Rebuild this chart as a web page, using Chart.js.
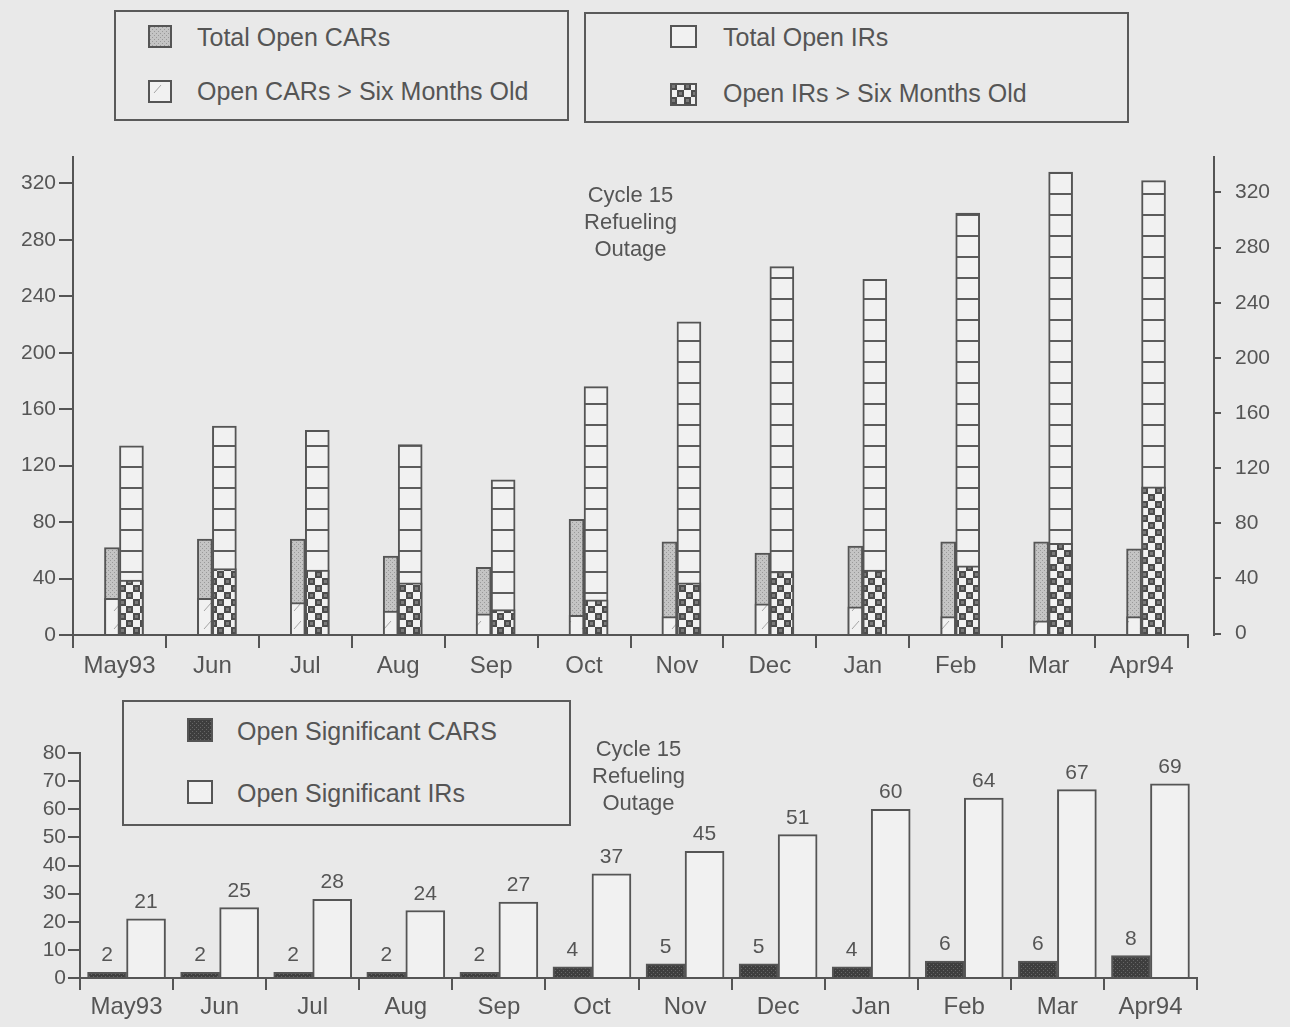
<!DOCTYPE html>
<html>
<head>
<meta charset="utf-8">
<script src="https://cdn.jsdelivr.net/npm/chart.js@4.4.1/dist/chart.umd.min.js"></script>
<style>
  body { margin: 0; width: 1290px; height: 1027px; position: relative; overflow: hidden;
         background: #e9e9e9; color: #555; font-family: "Liberation Sans", Arial, sans-serif; }
  #top, #bottom { position: absolute; left: 0; }
  #top { top: 130px; }
  #bottom { top: 735px; }
  .legend { position: absolute; border: 2px solid #5a5a5a; box-sizing: border-box; background: #e9e9e9; z-index: 2; }
  .legend canvas { position: absolute; }
  .legend span { position: absolute; font-size: 25px; line-height: 28px; white-space: nowrap; }
</style>
</head>
<body>
<canvas id="top" width="1290" height="570"></canvas>
<canvas id="bottom" width="1290" height="292"></canvas>
<script>
// data
const months = ['May93', 'Jun', 'Jul', 'Aug', 'Sep', 'Oct', 'Nov', 'Dec', 'Jan', 'Feb', 'Mar', 'Apr94'];
const totalOpenCARs = [62, 68, 68, 56, 48, 82, 66, 58, 63, 66, 66, 61];
const oldOpenCARs   = [26, 26, 23, 17, 15, 14, 13, 22, 20, 13, 10, 13];
const totalOpenIRs  = [134, 148, 145, 135, 110, 176, 222, 261, 252, 299, 328, 322];
const oldOpenIRs    = [39, 47, 46, 37, 18, 25, 37, 45, 46, 49, 65, 105];
const sigCARs = [2, 2, 2, 2, 2, 4, 5, 5, 4, 6, 6, 8];
const sigIRs  = [21, 25, 28, 24, 27, 37, 45, 51, 60, 64, 67, 69];
const noteLines = ['Cycle 15', 'Refueling', 'Outage'];

const ink = '#555555';
const font = '"Liberation Sans", Arial, sans-serif';
Chart.defaults.font.family = font;
Chart.defaults.color = ink;

// fill patterns like the old b/w print
function tile(w, h, paint) {
  const c = document.createElement('canvas');
  c.width = w; c.height = h;
  const g = c.getContext('2d');
  paint(g);
  return g.createPattern(c, 'repeat');
}
const fills = {
  carTotal: tile(4, 4, g => {
    g.fillStyle = '#c4c4c4'; g.fillRect(0, 0, 4, 4);
    g.fillStyle = '#999'; g.fillRect(0, 0, 1, 1); g.fillRect(2, 2, 1, 1);
  }),
  carOld: tile(18, 18, g => {
    g.fillStyle = '#f1f1f1'; g.fillRect(0, 0, 18, 18);
    g.strokeStyle = '#a5a5a5'; g.lineWidth = 1;
    g.beginPath(); g.moveTo(13, 5); g.lineTo(6, 13); g.stroke();
  }),
  irTotal: tile(6, 21, g => {
    g.fillStyle = '#f1f1f1'; g.fillRect(0, 0, 6, 21);
    g.fillStyle = '#5c5c5c'; g.fillRect(0, 0, 6, 2);
  }),
  irOld: tile(14, 14, g => {
    g.fillStyle = '#f1f1f1'; g.fillRect(0, 0, 14, 14);
    g.fillStyle = '#4c4c4c'; g.fillRect(0, 0, 7, 7); g.fillRect(7, 7, 7, 7);
    g.fillStyle = '#7a7a7a'; g.fillRect(2, 2, 3, 3); g.fillRect(9, 9, 3, 3);
  }),
  sigCar: tile(4, 4, g => {
    g.fillStyle = '#3e3e3e'; g.fillRect(0, 0, 4, 4);
    g.fillStyle = '#666'; g.fillRect(1, 1, 1, 1); g.fillRect(3, 3, 1, 1);
  }),
  sigIr: '#f1f1f1'
};

// "Cycle 15 Refueling Outage" note between Oct and Nov
const outageNote = {
  id: 'outageNote',
  afterDraw(chart, args, opts) {
    const { ctx, scales: { x } } = chart;
    const cx = x.getPixelForValue(5.5);
    ctx.save();
    ctx.font = '22px ' + font;
    ctx.fillStyle = ink;
    ctx.textAlign = 'center';
    ctx.textBaseline = 'middle';
    noteLines.forEach((t, i) => ctx.fillText(t, cx, opts.top + i * 27));
    ctx.restore();
  }
};

// the right axis stands a bit apart from the end of the x axis
const axisGap = {
  id: 'axisGap',
  afterLayout(chart, args, opts) {
    const x = chart.scales.x;
    x.right -= opts.gap;
    x.width = x.right - x.left;
    x.configure();
  }
};

// numbers over the lower bars
const valueLabels = {
  id: 'valueLabels',
  afterDatasetsDraw(chart) {
    const ctx = chart.ctx;
    ctx.save();
    ctx.font = '21px ' + font;
    ctx.fillStyle = ink;
    ctx.textAlign = 'center';
    ctx.textBaseline = 'alphabetic';
    chart.data.datasets.forEach((ds, i) => {
      chart.getDatasetMeta(i).data.forEach((bar, j) => {
        ctx.fillText(ds.data[j], bar.x, bar.y - 11);
      });
    });
    ctx.restore();
  }
};

const axisLine = { display: true, color: ink, width: 2 };

new Chart(document.getElementById('top'), {
  type: 'bar',
  data: {
    labels: months,
    datasets: [
      { label: 'Open CARs > Six Months Old', data: oldOpenCARs, stack: 'car', backgroundColor: fills.carOld, barThickness: 15 },
      { label: 'Total Open CARs', data: totalOpenCARs, stack: 'car', backgroundColor: fills.carTotal, barThickness: 15 },
      { label: 'Open IRs > Six Months Old', data: oldOpenIRs, stack: 'ir', backgroundColor: fills.irOld, barThickness: 24 },
      { label: 'Total Open IRs', data: totalOpenIRs, stack: 'ir', backgroundColor: fills.irTotal, barThickness: 24 }
    ]
  },
  options: {
    responsive: false,
    animation: false,
    devicePixelRatio: 1,
    layout: { padding: { top: 13 } },
    elements: { bar: { borderColor: ink, borderWidth: 2 } },
    plugins: {
      legend: { display: false },
      tooltip: { enabled: false },
      outageNote: { top: 66 },
      axisGap: { gap: 26 }
    },
    scales: {
      x: {
        grid: { offset: true, drawOnChartArea: false, tickLength: 13, color: ink, lineWidth: 2 },
        border: axisLine,
        ticks: { font: { size: 24 }, padding: 4, maxRotation: 0 },
        afterFit: s => { s.height = 65; }
      },
      y: {
        stacked: false,
        min: 0, max: 339,
        grid: { drawOnChartArea: false, tickLength: 14, color: ink, lineWidth: 2 },
        border: axisLine,
        ticks: { stepSize: 40, includeBounds: false, font: { size: 21 }, padding: 3 },
        afterFit: s => { s.width = 73; }
      },
      y2: {
        position: 'right',
        min: -1, max: 346,
        grid: { drawOnChartArea: false, tickLength: 7, color: ink, lineWidth: 2 },
        border: axisLine,
        ticks: { stepSize: 40, includeBounds: false, font: { size: 21 }, padding: 14 },
        afterFit: s => { s.width = 76; }
      }
    }
  },
  plugins: [outageNote, axisGap]
});

new Chart(document.getElementById('bottom'), {
  type: 'bar',
  data: {
    labels: months,
    datasets: [
      { label: 'Open Significant CARS', data: sigCARs, backgroundColor: fills.sigCar, barThickness: 39 },
      { label: 'Open Significant IRs', data: sigIRs, backgroundColor: fills.sigIr, barThickness: 39 }
    ]
  },
  options: {
    responsive: false,
    animation: false,
    devicePixelRatio: 1,
    layout: { padding: { top: 18, right: 93 } },
    elements: { bar: { borderColor: ink, borderWidth: 2 } },
    plugins: {
      legend: { display: false },
      tooltip: { enabled: false },
      outageNote: { top: 15 }
    },
    scales: {
      x: {
        grid: { offset: true, drawOnChartArea: false, tickLength: 12, color: ink, lineWidth: 2 },
        border: axisLine,
        ticks: { font: { size: 24 }, padding: 3, maxRotation: 0 },
        afterFit: s => { s.height = 49; }
      },
      y: {
        min: 0, max: 80,
        grid: { drawOnChartArea: false, tickLength: 12, color: ink, lineWidth: 2 },
        border: axisLine,
        ticks: { stepSize: 10, autoSkip: false, font: { size: 21, lineHeight: 1 }, padding: 2 },
        afterFit: s => { s.width = 80; }
      }
    }
  },
  plugins: [outageNote, valueLabels]
});

// boxed legends, as in the report
function legendBox(left, top, width, height, rows) {
  const box = document.createElement('div');
  box.className = 'legend';
  Object.assign(box.style, { left: left + 'px', top: top + 'px', width: width + 'px', height: height + 'px' });
  rows.forEach(r => {
    const sw = document.createElement('canvas');
    sw.width = r.w; sw.height = r.h;
    const g = sw.getContext('2d');
    g.fillStyle = ink; g.fillRect(0, 0, r.w, r.h);
    g.fillStyle = r.fill; g.fillRect(2, 2, r.w - 4, r.h - 4);
    sw.style.left = r.sx + 'px';
    sw.style.top = r.sy + 'px';
    box.appendChild(sw);
    const t = document.createElement('span');
    t.textContent = r.label;
    t.style.left = r.tx + 'px';
    t.style.top = (r.ty - 14) + 'px';
    box.appendChild(t);
  });
  document.body.appendChild(box);
}

legendBox(114, 10, 455, 111, [
  { label: 'Total Open CARs', fill: fills.carTotal, w: 24, h: 23, sx: 32, sy: 13, tx: 81, ty: 25 },
  { label: 'Open CARs > Six Months Old', fill: fills.carOld, w: 24, h: 23, sx: 32, sy: 68, tx: 81, ty: 79 }
]);
legendBox(584, 12, 545, 111, [
  { label: 'Total Open IRs', fill: fills.irTotal, w: 27, h: 23, sx: 84, sy: 11, tx: 137, ty: 23 },
  { label: 'Open IRs > Six Months Old', fill: fills.irOld, w: 27, h: 23, sx: 84, sy: 69, tx: 137, ty: 79 }
]);
legendBox(122, 700, 449, 126, [
  { label: 'Open Significant CARS', fill: fills.sigCar, w: 26, h: 24, sx: 63, sy: 16, tx: 113, ty: 29 },
  { label: 'Open Significant IRs', fill: fills.sigIr, w: 26, h: 24, sx: 63, sy: 78, tx: 113, ty: 91 }
]);
</script>
</body>
</html>
